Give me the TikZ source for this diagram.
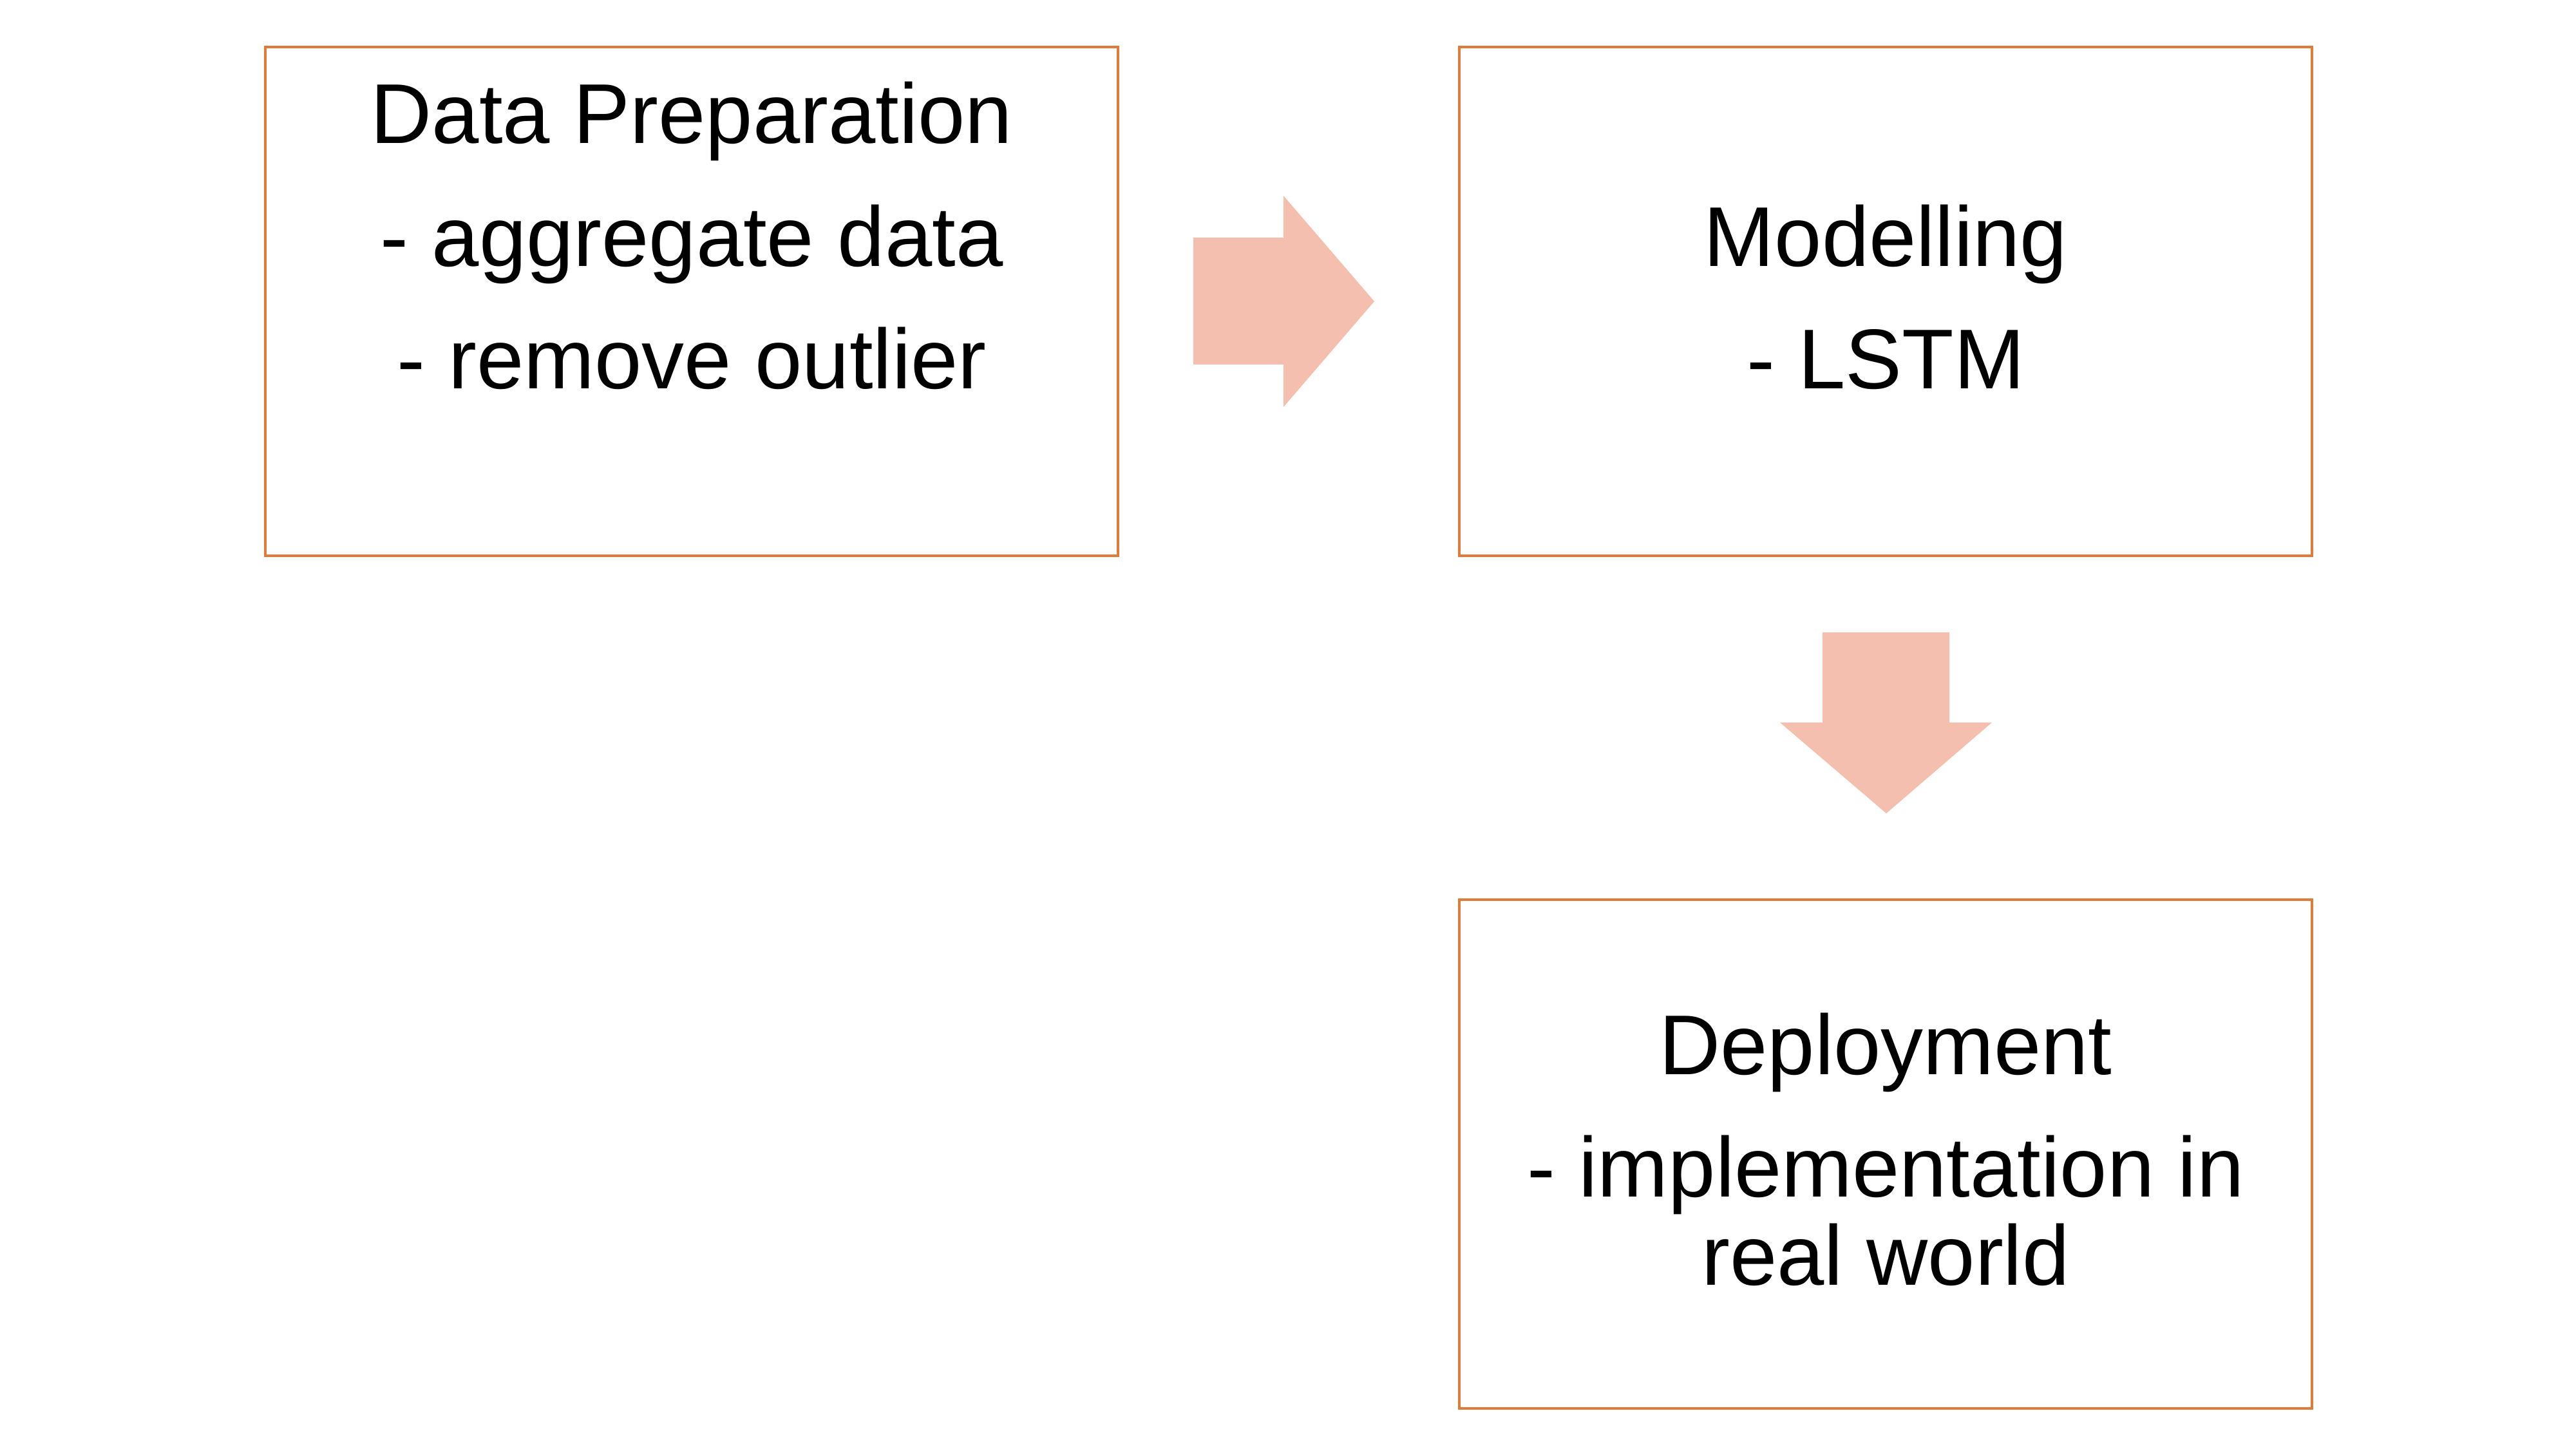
\documentclass[tikz,border=0pt]{standalone}
\usepackage{fontspec}
\setmainfont{Liberation Sans}
\usepackage{tikz}
\usetikzlibrary{positioning}
\definecolor{boxline}{HTML}{E07B39}
\definecolor{arrowfill}{HTML}{F4BFAE}

\begin{document}
\begin{tikzpicture}[
    stagebox/.style={draw=boxline,line width=1.15pt,minimum width=13.24cm,minimum height=7.9cm,inner sep=0pt},
    stagetext/.style={align=center,anchor=base,inner sep=0pt,font=\fontsize{37.5}{54.2}\selectfont},
    blockarrow/.style={fill=arrowfill}]
  \useasboundingbox (0,0) rectangle (40,22.5);
  % stages
  \node[stagebox] (prep)   at (10.74,17.82) {};
  \node[stagebox] (model)  at (29.28,17.82) {};
  \node[stagebox] (deploy) at (29.28,4.58) {};
  % texts (base = last line)
  \node[stagetext] (prepT) at ([yshift=-5.33cm]prep.north)
      {Data Preparation\\- aggregate data\\- remove outlier};
  \node[stagetext] (modelT) at ([yshift=-5.33cm]model.north)
      {Modelling\\- LSTM};
  \node[stagetext,font=\fontsize{37.5}{39.2}\selectfont] (deployT) at ([yshift=-6.01cm]deploy.north)
      {Deployment\\[14.7pt]- implementation in\\real world};
  % block arrows
  \fill[blockarrow] (18.53,18.81) -- (19.93,18.81) -- (19.93,19.46) -- (21.34,17.82)
      -- (19.93,16.18) -- (19.93,16.84) -- (18.53,16.84) -- cycle;
  \fill[blockarrow] (28.30,12.68) -- (30.27,12.68) -- (30.27,11.28) -- (30.93,11.28)
      -- (29.29,9.87) -- (27.64,11.28) -- (28.30,11.28) -- cycle;
\end{tikzpicture}
\end{document}
